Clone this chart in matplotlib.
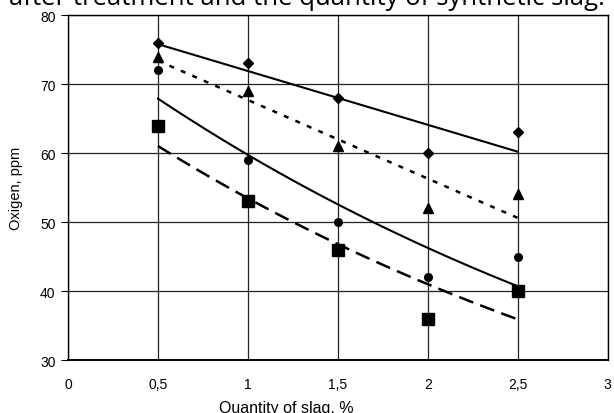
import numpy as np
import matplotlib
matplotlib.use("Agg")
import matplotlib.pyplot as plt

# Quantity of slag, % and measured oxygen, ppm for the four series
slag = [0.5, 1.0, 1.5, 2.0, 2.5]
oxy_diamond = [76, 73, 68, 60, 63]
oxy_triangle = [74, 69, 61, 52, 54]
oxy_circle = [72, 59, 50, 42, 45]
oxy_square = [64, 53, 46, 36, 40]

x_ticks = [0, 0.5, 1, 1.5, 2, 2.5, 3]
x_labels = ["0", "0,5", "1", "1,5", "2", "2,5", "3"]
y_ticks = [30, 40, 50, 60, 70, 80]

plt.rcParams["font.family"] = ["Liberation Sans", "DejaVu Sans"]

fig = plt.figure(figsize=(6.14, 4.14), dpi=100)
ax = fig.add_axes([0.1107, 0.128, 0.879, 0.833])

xs = np.array(slag)
xfit = np.linspace(0.5, 2.5, 50)

def linear_trend(y):
    k, b = np.polyfit(xs, y, 1)
    return k * xfit + b

def exp_trend(y):
    k, b = np.polyfit(xs, np.log(y), 1)
    return np.exp(k * xfit + b)

# Trend lines (Excel style fits of the points)
ax.plot(xfit, linear_trend(oxy_diamond), color="black", lw=1.5, ls="-")
ax.plot(xfit, linear_trend(oxy_triangle), color="black", lw=1.8, ls=(0, (2, 3)))
ax.plot(xfit, exp_trend(oxy_circle), color="black", lw=1.5, ls="-")
ax.plot(xfit, exp_trend(oxy_square), color="black", lw=1.8, ls=(0, (6, 3)))

# Measured points
ax.plot(slag, oxy_diamond, ls="none", marker="D", ms=5, color="black")
ax.plot(slag, oxy_triangle, ls="none", marker="^", ms=6.5, color="black")
ax.plot(slag, oxy_circle, ls="none", marker="o", ms=5.5, color="black")
ax.plot(slag, oxy_square, ls="none", marker="s", ms=8, color="black")

ax.set_xlim(0, 3)
ax.set_ylim(30, 80)
ax.set_xticks(x_ticks)
ax.set_xticklabels(x_labels)
ax.set_yticks(y_ticks)
ax.grid(True, color="#222222", lw=0.9)
ax.tick_params(axis="x", length=0, labelsize=10, pad=12)
ax.tick_params(axis="y", length=5, width=0.8, labelsize=10, pad=4)
for s in ax.spines.values():
    s.set_linewidth(1.0)
ax.spines["bottom"].set_linewidth(1.4)

ax.set_ylabel("Oxigen, ppm", fontsize=10.5, labelpad=12)
# x axis title sits low and is clipped by the bottom edge
fig.text(0.467, 0.002, "Quantity of slag, %", ha="center", va="baseline", fontsize=11.5)

# Caption cut off at the top of the picture
fig.text(0.5, 0.989, "after treatment and the quantity of synthetic slag.",
         ha="center", va="baseline", fontsize=18.5, family=["Open Sans", "DejaVu Sans"])

fig.savefig("out.png", dpi=100)
